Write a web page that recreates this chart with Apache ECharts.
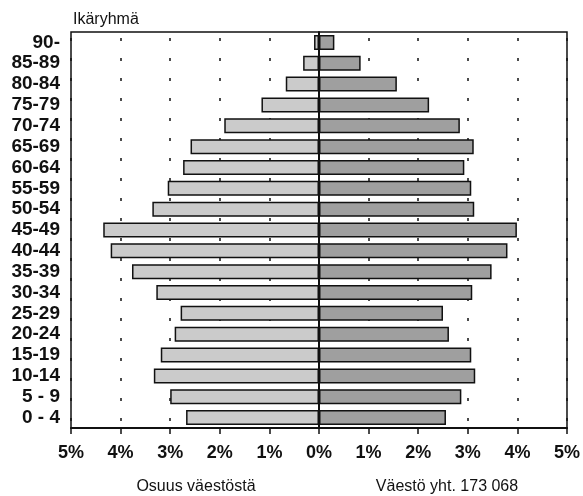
<!DOCTYPE html>
<html><head><meta charset="utf-8">
<script src="https://cdn.jsdelivr.net/npm/echarts@6/dist/echarts.min.js"></script>
<style>html,body{margin:0;padding:0;background:#fff}#c{width:583px;height:496px}</style>
</head><body><div id="c"></div>
<script>
const categories = ['90-','85-89','80-84','75-79','70-74','65-69','60-64','55-59','50-54','45-49','40-44','35-39','30-34','25-29','20-24','15-19','10-14','5 - 9','0 - 4'];
const leftShare  = [0.10,0.32,0.67,1.16,1.91,2.59,2.74,3.05,3.36,4.35,4.20,3.77,3.28,2.79,2.91,3.19,3.33,3.00,2.68];
const rightShare = [0.31,0.84,1.57,2.22,2.84,3.12,2.93,3.07,3.13,3.99,3.80,3.48,3.09,2.50,2.62,3.07,3.15,2.87,2.56];
const xTicks = [-5,-4,-3,-2,-1,0,1,2,3,4,5];

const chart = echarts.init(document.getElementById('c'), null, {renderer:'canvas'});
const F = '"Liberation Sans", Arial, sans-serif';
chart.setOption({
  animation:false,
  backgroundColor:'#fff',
  grid:{left:71,right:14,top:32,bottom:68,show:true,borderColor:'#111',borderWidth:1.5,backgroundColor:'transparent'},
  xAxis:{type:'value',min:xTicks[0],max:xTicks[xTicks.length-1],interval:1,
    axisLine:{show:true,lineStyle:{color:'#111',width:2}},
    axisTick:{show:true,length:6,lineStyle:{color:'#111',width:1.5}},
    axisLabel:{formatter:v=>Math.abs(v)+'%',color:'#111',fontFamily:F,fontWeight:'bold',fontSize:18,margin:16},
    splitLine:{show:true,lineStyle:{color:'#111',type:[3,17],dashOffset:-6,width:1.5}}
  },
  yAxis:{type:'category',data:categories,inverse:true,
    axisLine:{show:true,lineStyle:{color:'#111',width:2}},
    axisTick:{show:false},
    axisLabel:{interval:0,hideOverlap:false,color:'#111',fontFamily:F,fontWeight:'bold',fontSize:19,lineHeight:19,margin:11}
  },
  series:[
    {type:'bar',data:leftShare.map(v=>-v),barCategoryGap:'28%',barGap:'-100%',
     itemStyle:{color:'#cbcbcb',borderColor:'#111',borderWidth:1.5},
     markLine:{symbol:'none',silent:true,label:{show:false},lineStyle:{color:'#111',type:'solid',width:1},data:[{xAxis:0}]}},
    {type:'bar',data:rightShare,barCategoryGap:'28%',barGap:'-100%',
     itemStyle:{color:'#9f9f9f',borderColor:'#111',borderWidth:1.5}}
  ],
  graphic:[
    {type:'text',x:73,y:20,style:{text:'Ikäryhmä',font:'16px '+F,fill:'#111',align:'left',verticalAlign:'middle'}},
    {type:'text',x:196,y:487,style:{text:'Osuus väestöstä',font:'16px '+F,fill:'#111',align:'center',verticalAlign:'middle'}},
    {type:'text',x:447,y:487,style:{text:'Väestö yht. 173 068',font:'16px '+F,fill:'#111',align:'center',verticalAlign:'middle'}}
  ]
});
</script></body></html>
